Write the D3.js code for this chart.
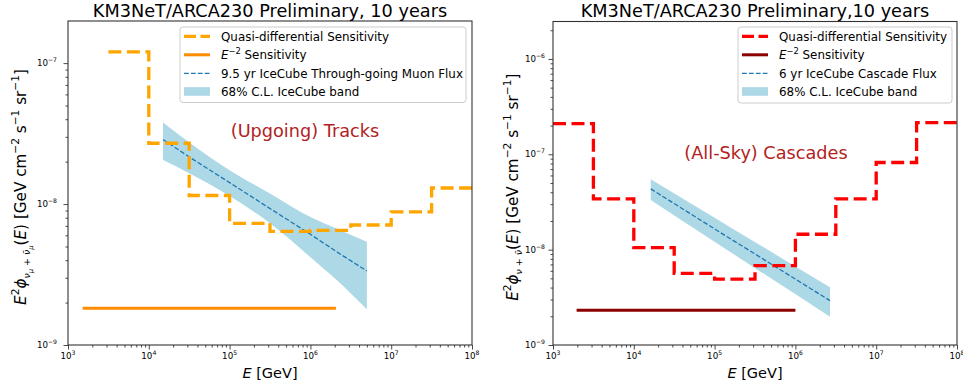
<!DOCTYPE html>
<html><head><meta charset="utf-8">
<script src="https://cdn.jsdelivr.net/npm/d3@7"></script>
<style>
body{margin:0;background:#fff}
svg{display:block}
text{font-family:"DejaVu Sans",sans-serif;white-space:pre;fill:#000}
</style>
</head><body>
<svg id="c" width="963" height="391"></svg>
<script>
// ---------------- data ----------------
const energyRange = [1e3, 1e8];
const xTickValues = [1e3, 1e4, 1e5, 1e6, 1e7, 1e8];

// Left panel: upgoing tracks
const tracksTitle = "KM3NeT/ARCA230 Preliminary, 10 years";
const tracksBinEdges = [3162, 1e4, 31623, 1e5, 316228, 1e6, 3162278, 1e7, 31622777, 1e8];
const tracksSensitivity = [1.2e-7, 2.7e-8, 1.15e-8, 7.3e-9, 6.4e-9, 6.5e-9, 7.1e-9, 8.8e-9, 1.3e-8];
const tracksE2Energy = [1.52e3, 2.07e6];
const tracksE2Flux = [1.82e-9, 1.82e-9];
const icTrackE     = [1.5e4, 3.2e4, 1e5, 3.16e5, 1e6, 2.1e6, 5e6];
const icTrackFlux  = [2.87e-8, 2.15e-8, 1.42e-8, 9.3e-9, 6.1e-9, 4.6e-9, 3.35e-9];
const icTrackUpper = [3.79e-8, 2.72e-8, 1.74e-8, 1.19e-8, 8.1e-9, 6.7e-9, 5.4e-9];
const icTrackLower = [2.05e-8, 1.65e-8, 1.14e-8, 7.3e-9, 4.2e-9, 2.9e-9, 1.79e-9];
const tracksYTicks = [1e-9, 1e-8, 1e-7];
const tracksLegend = ["Quasi-differential Sensitivity", "E^-2 Sensitivity", "9.5 yr IceCube Through-going Muon Flux", "68% C.L. IceCube band"];

// Right panel: all-sky cascades
const cascTitle = "KM3NeT/ARCA230 Preliminary,10 years";
const cascBinEdges = [1e3, 3162, 1e4, 31623, 1e5, 316228, 1e6, 3162278, 1e7, 31622777, 1e8];
const cascSensitivity = [2.1e-7, 3.4e-8, 1.05e-8, 5.65e-9, 4.9e-9, 6.8e-9, 1.45e-8, 3.4e-8, 8.2e-8, 2.15e-7];
const cascE2Energy = [1.96e3, 1.0e6];
const cascE2Flux = [2.31e-9, 2.31e-9];
const icCascE     = [1.62e4, 1e5, 2.68e6];
const icCascFlux  = [4.34e-8, 1.65e-8, 2.92e-9];
const icCascUpper = [5.48e-8, 2.16e-8, 4.03e-9];
const icCascLower = [3.32e-8, 1.21e-8, 1.98e-9];
const cascYTicks = [1e-9, 1e-8, 1e-7, 1e-6];
const cascLegend = ["Quasi-differential Sensitivity", "E^-2 Sensitivity", "6 yr IceCube Cascade Flux", "68% C.L. IceCube band"];

// ---------------- drawing ----------------
const svg = d3.select("#c");
svg.append("rect").attr("width", 963).attr("height", 391).attr("fill", "#fff");

function rich(sel, segs, base, opt) {
  const o0 = Object.assign({sup: -0.42, sub: 0.25, subsub: 0.45, supS: 0.7, subS: 0.7, subsubS: 0.5}, opt || {});
  const off = {"0": 0, "1": o0.sup, "-1": o0.sub, "-2": o0.subsub};
  const sz = {"0": 1, "1": o0.supS, "-1": o0.subS, "-2": o0.subsubS};
  let cur = 0;
  segs.forEach(([t, lv, it]) => {
    const o = off[String(lv)] * base;
    sel.append("tspan").attr("dy", (o - cur).toFixed(2))
      .attr("font-size", sz[String(lv)] * base)
      .attr("font-style", it ? "italic" : "normal").text(t);
    cur = o;
  });
}
function expOf(v) { return Math.round(Math.log10(v)); }
function minorTicks(domain) {
  const out = [];
  const lo = Math.floor(Math.log10(domain[0])), hi = Math.ceil(Math.log10(domain[1]));
  for (let k = lo; k <= hi; k++) for (let m = 2; m <= 9; m++) {
    const v = m * Math.pow(10, k);
    if (v >= domain[0] * 0.999 && v <= domain[1] * 1.001) out.push(v);
  }
  return out;
}

function panel(c) {
  const g = svg.append("g");
  const x = d3.scaleLog().domain(energyRange).range([c.left, c.right]);
  const y = d3.scaleLog().domain(c.yDomain).range([c.bottom, c.top]);
  const clipId = "clip" + c.id;
  g.append("clipPath").attr("id", clipId).append("rect")
    .attr("x", c.left).attr("y", c.top).attr("width", c.right - c.left).attr("height", c.bottom - c.top);
  const plot = g.append("g").attr("clip-path", `url(#${clipId})`);

  // IceCube band
  const bandData = c.bandE.map((e, i) => ({e, lo: c.bandLo[i], hi: c.bandHi[i]}));
  plot.append("path").datum(bandData)
    .attr("d", d3.area().curve(d3.curveMonotoneX).x(d => x(d.e)).y0(d => y(d.lo)).y1(d => y(d.hi)))
    .attr("fill", "#add8e6").attr("stroke", "none");
  // IceCube best fit
  plot.append("path").datum(c.bandE.map((e, i) => [e, c.bandMid[i]]))
    .attr("d", d3.line().x(d => x(d[0])).y(d => y(d[1])))
    .attr("fill", "none").attr("stroke", "#1f77b4").attr("stroke-width", 1.3)
    .attr("stroke-dasharray", "4.8,2.1");
  // step sensitivity
  const pts = [];
  c.sens.forEach((v, i) => { pts.push([c.edges[i], v]); pts.push([c.edges[i + 1], v]); });
  plot.append("path").datum(pts)
    .attr("d", d3.line().x(d => x(d[0])).y(d => y(d[1])))
    .attr("fill", "none").attr("stroke", c.stepColor).attr("stroke-width", 3.3)
    .attr("stroke-dasharray", "13,5.5").attr("stroke-linejoin", "miter");
  // E^-2 sensitivity
  plot.append("path").datum(c.e2E.map((e, i) => [e, c.e2F[i]]))
    .attr("d", d3.line().x(d => x(d[0])).y(d => y(d[1])))
    .attr("fill", "none").attr("stroke", c.e2Color).attr("stroke-width", 3);

  // annotation
  g.append("text").attr("x", c.annX).attr("y", c.annY).attr("text-anchor", "middle")
    .attr("font-size", 17.7).style("fill", "#b22222").text(c.annText);

  // axes
  const axCol = "#333";
  const xMaj = g.append("g").attr("transform", `translate(0,${c.bottom})`)
    .call(d3.axisBottom(x).tickValues(xTickValues).tickSize(4.5).tickFormat(() => ""));
  const xMin = g.append("g").attr("transform", `translate(0,${c.bottom})`)
    .call(d3.axisBottom(x).tickValues(minorTicks(energyRange)).tickSize(2.5).tickFormat(() => ""));
  const yMaj = g.append("g").attr("transform", `translate(${c.left},0)`)
    .call(d3.axisLeft(y).tickValues(c.yTicks).tickSize(4.5).tickFormat(() => ""));
  const yMin = g.append("g").attr("transform", `translate(${c.left},0)`)
    .call(d3.axisLeft(y).tickValues(minorTicks(c.yDomain)).tickSize(2.5).tickFormat(() => ""));
  [xMaj, xMin, yMaj, yMin].forEach(a => {
    a.select(".domain").remove();
    a.selectAll("line").attr("stroke", axCol).attr("stroke-width", 0.9);
  });
  // frame
  g.append("rect").attr("x", c.left).attr("y", c.top).attr("width", c.right - c.left).attr("height", c.bottom - c.top)
    .attr("fill", "none").attr("stroke", axCol).attr("stroke-width", 1.1);

  // tick labels
  xTickValues.forEach(v => {
    const t = g.append("text").attr("x", x(v)).attr("y", c.bottom + 14).attr("text-anchor", "middle").attr("font-size", 8.7);
    t.append("tspan").text("10");
    t.append("tspan").attr("dy", -4).attr("font-size", 6.1).text(String(expOf(v)).replace("-", "\u2212"));
  });
  c.yTicks.forEach(v => {
    const t = g.append("text").attr("x", c.yLabelX).attr("y", y(v) + 3).attr("text-anchor", "end").attr("font-size", 8.7);
    t.append("tspan").text("10");
    t.append("tspan").attr("dy", -4).attr("font-size", 6.1).text(String(expOf(v)).replace("-", "\u2212"));
  });

  // title
  g.append("text").attr("x", (c.left + c.right) / 2).attr("y", 16.5).attr("text-anchor", "middle")
    .attr("font-size", 17.7).text(c.title);
  // x label
  const xl = g.append("text").attr("x", (c.left + c.right) / 2).attr("y", 378).attr("text-anchor", "middle");
  rich(xl, [["E", 0, true], [" [GeV]", 0, false]], 14.5);
  // y label
  const yl = g.append("text").attr("text-anchor", "middle")
    .attr("transform", `translate(${c.ylabX},${(c.top + c.bottom) / 2 + 4}) rotate(-90)`);
  rich(yl, c.ylabSegs, 15.2, {sup: -0.45, sub: 0.28, subsub: 0.45, supS: 0.7, subS: 0.62, subsubS: 0.45});

  // legend
  const L = c.legend;
  const lg = g.append("g");
  lg.append("rect").attr("x", L.x).attr("y", L.y).attr("width", L.w).attr("height", L.h).attr("rx", 3)
    .attr("fill", "#fff").attr("fill-opacity", 0.8).attr("stroke", "#cccccc").attr("stroke-width", 1);
  const hx0 = L.x + 4, hx1 = L.x + 30, tx = L.x + 41;
  const rows = [L.y + 9.3, L.y + 27.8, L.y + 46.3, L.y + 64.5];
  lg.append("line").attr("x1", hx0).attr("x2", hx1).attr("y1", rows[0]).attr("y2", rows[0])
    .attr("stroke", c.stepColor).attr("stroke-width", 3.3).attr("stroke-dasharray", "12,4.5");
  lg.append("line").attr("x1", hx0).attr("x2", hx1).attr("y1", rows[1]).attr("y2", rows[1])
    .attr("stroke", c.e2Color).attr("stroke-width", 3);
  lg.append("line").attr("x1", hx0).attr("x2", hx1).attr("y1", rows[2]).attr("y2", rows[2])
    .attr("stroke", "#1f77b4").attr("stroke-width", 1.3).attr("stroke-dasharray", "4.8,2.1");
  lg.append("rect").attr("x", hx0).attr("y", rows[3] - 4.3).attr("width", hx1 - hx0).attr("height", 8.6)
    .attr("fill", "#add8e6");
  c.legendLabels.forEach((lab, i) => {
    const t = lg.append("text").attr("x", tx).attr("y", rows[i] + 4.2).attr("font-size", 11.9);
    if (lab.startsWith("E^-2")) {
      rich(t, [["E", 0, true], ["\u22122", 1, false], [" Sensitivity", 0, false]], 11.9);
    } else t.text(lab);
  });
}

panel({
  id: "L", left: 68, right: 472, top: 21, bottom: 345, yDomain: [1e-9, 1.99e-7],
  edges: tracksBinEdges, sens: tracksSensitivity, stepColor: "#ffa500",
  e2E: tracksE2Energy, e2F: tracksE2Flux, e2Color: "#ff8c00",
  bandE: icTrackE, bandMid: icTrackFlux, bandHi: icTrackUpper, bandLo: icTrackLower,
  annText: "(Upgoing) Tracks", annX: 305, annY: 136.5,
  yTicks: tracksYTicks, yLabelX: 57, title: tracksTitle, ylabX: 26,
  ylabSegs: [["E", 0, true], ["2", 1, false], ["\u03d5", 0, true], ["\u03bd", -1, true], ["\u03bc", -2, true],
             [" + ", -1, false], ["\u03bd\u0304", -1, true], ["\u03bc", -2, true],
             ["(", 0, false], ["E", 0, true], [") [GeV cm", 0, false], ["\u22122", 1, false],
             [" s", 0, false], ["\u22121", 1, false], [" sr", 0, false], ["\u22121", 1, false], ["]", 0, false]],
  legend: {x: 180, y: 27, w: 286, h: 75.5}, legendLabels: tracksLegend
});

panel({
  id: "R", left: 553, right: 957, top: 21.5, bottom: 345, yDomain: [1e-9, 2.47e-6],
  edges: cascBinEdges, sens: cascSensitivity, stepColor: "#ff0000",
  e2E: cascE2Energy, e2F: cascE2Flux, e2Color: "#8b0000",
  bandE: icCascE, bandMid: icCascFlux, bandHi: icCascUpper, bandLo: icCascLower,
  annText: "(All-Sky) Cascades", annX: 766, annY: 159.3,
  yTicks: cascYTicks, yLabelX: 545, title: cascTitle, ylabX: 518,
  ylabSegs: [["E", 0, true], ["2", 1, false], ["\u03d5", 0, true], ["\u03bd", -1, true],
             [" + ", -1, false], ["\u03bd\u0304", -1, true],
             ["(", 0, false], ["E", 0, true], [") [GeV cm", 0, false], ["\u22122", 1, false],
             [" s", 0, false], ["\u22121", 1, false], [" sr", 0, false], ["\u22121", 1, false], ["]", 0, false]],
  legend: {x: 738, y: 27, w: 214, h: 76}, legendLabels: cascLegend
});
</script>
</body></html>
